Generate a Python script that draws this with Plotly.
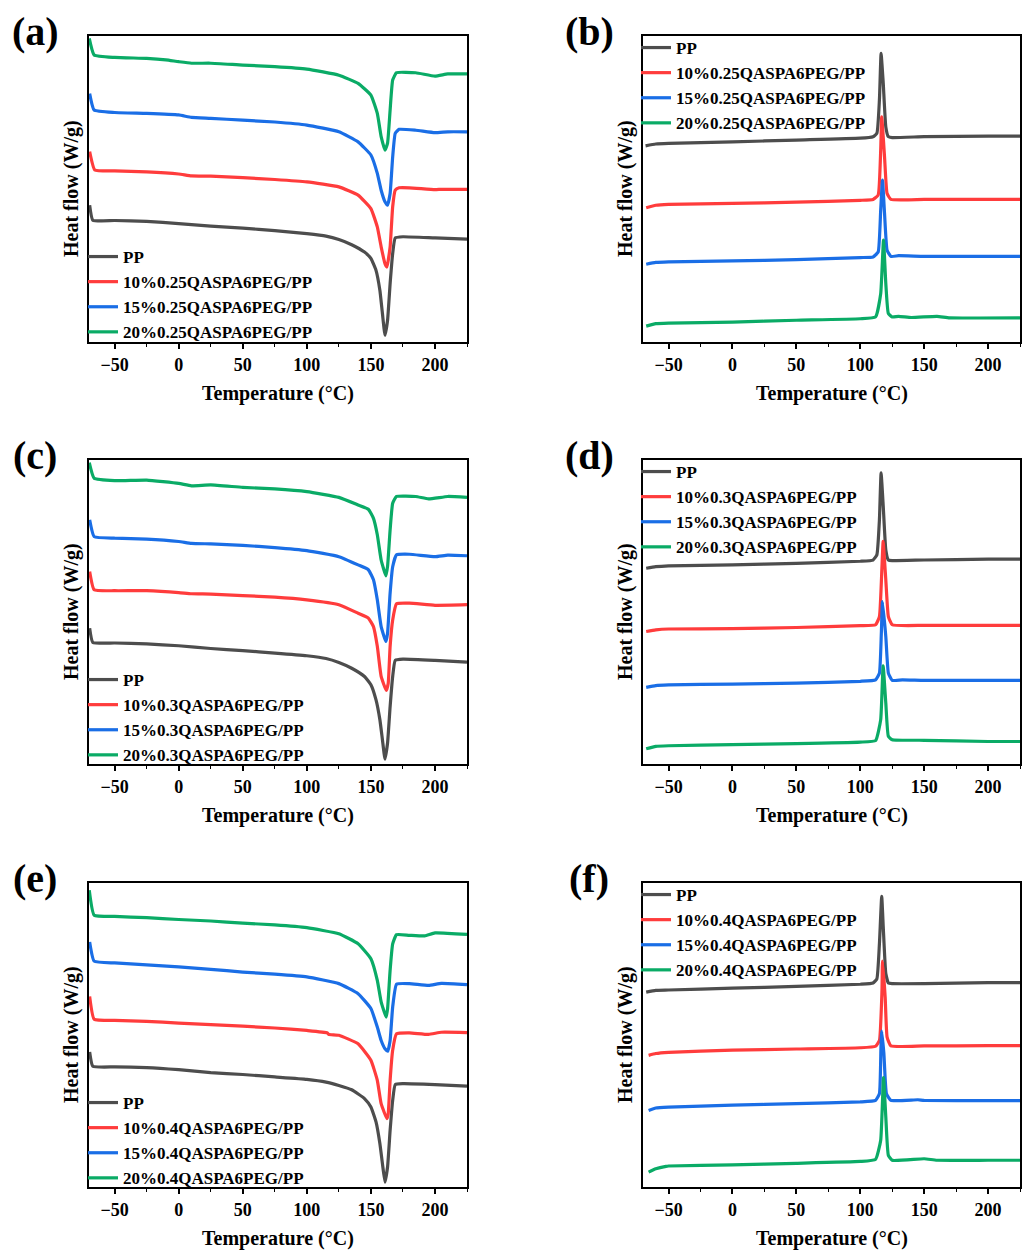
import plotly.graph_objects as go

# DSC curves. y is heat flow in arbitrary units (0-100 per panel)
names_a = ["PP", "10%0.25QASPA6PEG/PP", "15%0.25QASPA6PEG/PP", "20%0.25QASPA6PEG/PP"]
names_c = ["PP", "10%0.3QASPA6PEG/PP", "15%0.3QASPA6PEG/PP", "20%0.3QASPA6PEG/PP"]
names_e = ["PP", "10%0.4QASPA6PEG/PP", "15%0.4QASPA6PEG/PP", "20%0.4QASPA6PEG/PP"]
colors = ["#4d4d4d", "#ff3c3c", "#1a6ee6", "#0aab66"]
panel_labels = ["(a)", "(b)", "(c)", "(d)", "(e)", "(f)"]
x_ticks = [-50, 0, 50, 100, 150, 200]

# (a) heating
a_pp = [(-69.5, 44.7), (-67, 39.8), (-50, 39.7), (-25, 39.4), (0, 38.7), (25, 37.9), (50, 37.2),
        (75, 36.4), (100, 35.4), (115, 34.6), (125, 33.5), (135, 31.8), (145, 29.4), (150, 27.3),
        (154, 23.4), (157, 16.9), (159, 9.3), (161, 2.2), (163, 7.1), (165, 19.1), (167, 28.9),
        (169, 34.0), (175, 34.4), (200, 34.0), (225, 33.6)]
a_10 = [(-69.5, 62.2), (-65.5, 56.2), (-50, 55.9), (-25, 55.6), (0, 54.9), (10, 54.3), (25, 54.2),
        (50, 53.7), (75, 53.1), (100, 52.3), (125, 50.7), (140, 48.0), (150, 43.6), (155, 37.6),
        (158, 31.1), (161, 25.6), (162.5, 24.5), (165, 31.1), (167, 44.2), (169, 49.6), (172, 50.4),
        (180, 50.4), (200, 49.8), (205, 49.9), (225, 49.9)]
a_15 = [(-69.5, 81.2), (-66, 75.8), (-50, 75.0), (-25, 74.7), (0, 74.2), (10, 73.4), (25, 73.1),
        (50, 72.5), (75, 71.9), (100, 70.9), (125, 68.7), (140, 65.4), (150, 61.1), (155, 55.1),
        (158, 49.6), (161, 45.8), (163, 44.7), (165, 48.5), (167, 60.5), (169, 68.2), (172, 69.5),
        (185, 69.2), (200, 68.4), (210, 68.7), (225, 68.7)]
a_20 = [(-69.8, 99.2), (-66, 93.8), (-50, 93.0), (-25, 92.7), (-10, 92.2), (0, 91.6), (10, 91.1),
        (25, 91.1), (50, 90.5), (75, 90.0), (100, 89.2), (125, 87.2), (140, 84.5), (150, 80.7),
        (155, 74.7), (158, 67.1), (161, 62.7), (163, 65.0), (165, 75.8), (167, 85.6), (170, 88.0),
        (185, 88.0), (200, 86.9), (210, 87.6), (225, 87.6)]

# (b) cooling
b_pp = [(-68, 64.1), (-60, 64.7), (-50, 64.9), (0, 65.4), (50, 66.0), (100, 66.6), (110, 67.1),
        (113, 68.2), (115, 79.1), (116.3, 94.3), (118, 84.5), (120, 70.3), (122, 67.1), (125, 66.8),
        (150, 67.1), (200, 67.3), (225, 67.3)]
b_10 = [(-67.5, 43.9), (-60, 44.7), (-50, 45.0), (0, 45.3), (50, 45.7), (100, 46.3), (110, 46.6),
        (114, 48.0), (116, 62.7), (116.8, 73.6), (119, 60.5), (121, 48.5), (124, 46.6), (150, 46.6),
        (200, 46.6), (225, 46.6)]
b_15 = [(-67.5, 25.4), (-60, 26.0), (-50, 26.2), (0, 26.5), (50, 26.9), (100, 27.6), (110, 27.8),
        (114, 29.4), (116, 43.1), (117.4, 52.9), (119, 42.0), (121, 30.0), (124, 28.0), (130, 28.2),
        (150, 28.0), (200, 28.0), (225, 28.0)]
b_20 = [(-67.5, 5.2), (-60, 6.0), (-50, 6.2), (0, 6.5), (50, 7.1), (100, 7.6), (112, 8.2),
        (116, 15.8), (118.2, 33.3), (120, 19.1), (122, 9.3), (125, 8.2), (130, 8.4), (140, 8.0),
        (160, 8.4), (170, 7.9), (225, 7.9)]

# (c) heating
c_pp = [(-69.5, 44.7), (-67, 40.0), (-50, 39.8), (-25, 39.5), (0, 38.9), (25, 38.0), (50, 37.3),
        (75, 36.5), (100, 35.6), (115, 34.7), (125, 33.4), (135, 31.5), (145, 28.8), (150, 26.1),
        (154, 21.1), (157, 14.6), (159, 8.0), (161, 1.6), (163, 6.9), (165, 18.9), (167, 28.8),
        (169, 34.1), (175, 34.5), (200, 34.1), (225, 33.5)]
c_10 = [(-69.5, 63.3), (-66, 57.3), (-50, 57.0), (-25, 57.0), (0, 56.4), (10, 56.0), (25, 55.9),
        (50, 55.4), (75, 54.9), (100, 54.0), (125, 52.4), (140, 49.6), (148, 48.0), (152, 45.2),
        (155, 38.7), (158, 28.8), (162, 24.2), (163.5, 26.5), (165, 38.7), (167, 47.4), (170, 52.7),
        (180, 52.9), (200, 52.2), (225, 52.4)]
c_15 = [(-69.5, 80.3), (-66, 74.8), (-50, 74.3), (-25, 74.0), (0, 73.2), (10, 72.6), (25, 72.4),
        (50, 71.9), (75, 71.2), (100, 70.2), (125, 68.2), (140, 65.5), (148, 63.9), (152, 60.6),
        (155, 54.0), (158, 45.2), (161.7, 40.3), (163, 43.0), (165, 56.2), (167, 64.9), (170, 68.8),
        (180, 69.0), (200, 68.2), (210, 68.7), (225, 68.5)]
c_20 = [(-69.8, 99.1), (-66, 94.0), (-50, 93.2), (-25, 93.4), (0, 92.3), (10, 91.5), (25, 91.8),
        (50, 91.0), (75, 90.5), (100, 89.6), (125, 87.7), (140, 85.2), (148, 83.8), (152, 80.8),
        (155, 75.4), (158, 67.1), (161.7, 61.9), (163, 65.0), (165, 77.0), (167, 85.8), (170, 88.0),
        (185, 88.0), (195, 87.2), (210, 88.0), (225, 87.7)]

# (d) cooling
d_pp = [(-67.5, 64.4), (-60, 64.9), (-50, 65.2), (0, 65.5), (50, 66.0), (100, 66.7), (110, 67.1),
        (113, 68.8), (115, 80.3), (116.3, 95.8), (118, 84.7), (120, 70.4), (122, 67.1), (125, 66.9),
        (150, 67.1), (200, 67.4), (225, 67.4)]
d_10 = [(-67.5, 43.6), (-60, 44.1), (-50, 44.4), (0, 44.5), (50, 44.9), (100, 45.5), (112, 45.8),
        (115, 48.5), (117, 65.0), (117.9, 73.2), (120, 60.6), (122, 48.5), (125, 45.8), (150, 45.6),
        (200, 45.6), (225, 45.6)]
d_15 = [(-67.5, 25.2), (-60, 25.8), (-50, 26.0), (0, 26.3), (50, 26.6), (100, 27.2), (112, 27.7),
        (115, 29.9), (116.5, 43.0), (117.4, 53.4), (120, 41.9), (122, 29.9), (125, 27.5), (133, 27.7),
        (150, 27.5), (200, 27.5), (225, 27.5)]
d_20 = [(-67.5, 5.0), (-60, 5.8), (-50, 6.0), (0, 6.4), (50, 6.7), (100, 7.2), (112, 7.7),
        (116, 14.6), (117.9, 32.3), (120, 20.0), (122, 9.1), (125, 8.0), (150, 7.8), (200, 7.4),
        (225, 7.4)]

# (e) heating
e_pp = [(-69.5, 44.4), (-67, 39.7), (-50, 39.5), (-25, 39.3), (0, 38.6), (25, 37.6), (50, 37.0),
        (75, 36.2), (100, 35.4), (115, 34.5), (125, 33.4), (135, 32.0), (145, 29.1), (150, 26.3),
        (154, 21.4), (157, 14.3), (159, 7.7), (161, 1.6), (163, 6.6), (165, 18.6), (167, 28.5),
        (169, 33.7), (175, 34.0), (200, 33.7), (225, 33.2)]
e_10 = [(-69.5, 62.7), (-66, 55.2), (-50, 54.8), (-25, 54.5), (0, 53.9), (25, 53.4), (50, 52.9),
        (75, 52.3), (100, 51.5), (116, 50.7), (117, 50.2), (125, 49.9), (140, 47.1), (150, 41.7),
        (155, 35.1), (158, 27.4), (162.5, 22.5), (163.5, 24.0), (165, 35.1), (167, 45.0), (170, 50.4),
        (180, 50.7), (195, 50.2), (205, 50.9), (225, 50.8)]
e_15 = [(-69.5, 80.6), (-66, 74.3), (-50, 73.7), (-25, 73.1), (0, 72.4), (25, 71.6), (50, 70.7),
        (75, 70.0), (100, 69.1), (125, 66.9), (140, 63.6), (150, 58.7), (155, 52.6), (158, 48.2),
        (161, 45.5), (163.2, 44.7), (165, 48.2), (167, 59.2), (170, 66.7), (180, 66.9), (195, 66.3),
        (205, 67.0), (225, 66.6)]
e_20 = [(-69.8, 97.6), (-66, 89.4), (-50, 89.0), (-25, 88.6), (0, 88.0), (25, 87.5), (50, 86.8),
        (75, 86.2), (100, 85.3), (125, 83.3), (140, 80.0), (150, 75.1), (155, 68.0), (158, 60.9),
        (161.9, 55.9), (163, 58.6), (165, 71.3), (167, 80.0), (170, 83.0), (180, 82.8), (192, 82.6),
        (200, 83.6), (225, 83.1)]

# (f) cooling
f_pp = [(-67.5, 64.1), (-60, 64.7), (-50, 64.8), (0, 65.4), (50, 66.0), (100, 66.7), (110, 67.1),
        (113, 68.5), (115, 80.0), (116.8, 95.6), (118, 85.5), (120, 70.2), (122, 67.1), (125, 66.9),
        (150, 66.9), (200, 67.2), (225, 67.2)]
f_10 = [(-65.6, 43.3), (-60, 43.9), (-50, 44.3), (0, 45.0), (50, 45.4), (100, 45.8), (112, 46.3),
        (115, 48.2), (117, 64.7), (117.4, 74.3), (119.5, 62.5), (121, 49.3), (124, 46.4), (150, 46.4),
        (200, 46.5), (225, 46.5)]
f_15 = [(-65.6, 25.2), (-60, 26.0), (-50, 26.3), (0, 26.9), (50, 27.4), (100, 28.0), (112, 28.5),
        (115, 30.7), (116.2, 46.1), (116.8, 51.3), (118.5, 43.9), (120.5, 30.7), (124, 28.5),
        (145, 28.7), (150, 28.5), (200, 28.4), (225, 28.4)]
f_20 = [(-65.6, 4.9), (-60, 6.0), (-52, 6.8), (-50, 6.9), (0, 7.3), (50, 7.8), (100, 8.4), (112, 9.1),
        (116, 15.4), (118.2, 36.0), (120, 23.0), (122, 10.4), (125, 8.8), (150, 9.3), (160, 8.8),
        (200, 8.8), (225, 8.8)]

panels = [
    (names_a, [a_pp, a_10, a_15, a_20]),
    (names_a, [b_pp, b_10, b_15, b_20]),
    (names_c, [c_pp, c_10, c_15, c_20]),
    (names_c, [d_pp, d_10, d_15, d_20]),
    (names_e, [e_pp, e_10, e_15, e_20]),
    (names_e, [f_pp, f_10, f_15, f_20]),
]

# the page body has an 8px margin, so the figure is drawn 8px in from the window corner
OFF = 8
W, H = 1031 - 2 * OFF, 1259 - 2 * OFF
FONT = "Liberation Serif"

# plot-area boxes in window pixels (left, right) / (top, bottom)
col_px = [(89, 467), (643, 1020)]
row_px = [(36, 342), (460, 764), (883, 1187)]
# legend anchor (left x, top y) in window pixels
legend_px = [(83, 239), (636, 30), (83, 662), (636, 454), (83, 1085), (636, 877)]


def px_x(v):
    return (v - OFF) / W


def px_y(v):
    return 1 - (v - OFF) / H


fig = go.Figure()
layout = {}

for i, (names, curves) in enumerate(panels):
    r, c = divmod(i, 2)
    x0, x1 = col_px[c]
    y0, y1 = row_px[r]
    n = "" if i == 0 else str(i + 1)
    leg = "legend" + n
    for name, pts, col in zip(names, curves, colors):
        fig.add_trace(go.Scatter(
            x=[p[0] for p in pts], y=[p[1] for p in pts],
            mode="lines", name=name,
            line=dict(color=col, width=3.2, shape="spline", smoothing=0.4),
            xaxis="x" + n, yaxis="y" + n, legend=leg,
        ))
    layout["xaxis" + n] = dict(
        domain=[px_x(x0), px_x(x1)], anchor="y" + n, range=[-70, 225],
        tickvals=x_ticks, ticks="outside", ticklen=5, tickwidth=1.5, tickcolor="black",
        minor=dict(dtick=25, tick0=-25, ticks="outside", ticklen=3, tickwidth=1.2, tickcolor="black"),
        showgrid=False, zeroline=False, showline=True, mirror=True,
        linecolor="black", linewidth=1.8,
        tickfont=dict(family=FONT, size=18, color="black", weight="bold"),
    )
    layout["yaxis" + n] = dict(
        domain=[px_y(y1), px_y(y0)], anchor="x" + n, range=[0, 100],
        showticklabels=False, ticks="", showgrid=False, zeroline=False,
        showline=True, mirror=True, linecolor="black", linewidth=1.8,
    )
    lx, ly = legend_px[i]
    layout[leg] = dict(
        x=px_x(lx), y=px_y(ly), xanchor="left", yanchor="top",
        bgcolor="rgba(0,0,0,0)", borderwidth=0, tracegroupgap=0,
        itemwidth=30, font=dict(family=FONT, size=17, color="black", weight="bold"),
    )

annotations = []
for i, lab in enumerate(panel_labels):
    r, c = divmod(i, 2)
    x0, x1 = col_px[c]
    y0, y1 = row_px[r]
    annotations.append(dict(text=lab, x=px_x(x0 - 54), y=px_y(y0 - 5), xref="paper", yref="paper",
                            xanchor="center", yanchor="middle", showarrow=False,
                            font=dict(family=FONT, size=40, color="black", weight="bold")))
    annotations.append(dict(text="Heat flow (W/g)", textangle=-90, x=px_x(x0 - 18),
                            y=px_y((y0 + y1) / 2), xref="paper", yref="paper",
                            xanchor="center", yanchor="middle", showarrow=False,
                            font=dict(family=FONT, size=20, color="black", weight="bold")))
    annotations.append(dict(text="Temperature (°C)", x=px_x((x0 + x1) / 2), y=px_y(y1 + 51),
                            xref="paper", yref="paper", xanchor="center", yanchor="middle",
                            showarrow=False,
                            font=dict(family=FONT, size=20, color="black", weight="bold")))

fig.update_layout(
    width=W, height=H, margin=dict(l=0, r=0, t=0, b=0),
    plot_bgcolor="white", paper_bgcolor="white",
    showlegend=True, annotations=annotations, **layout,
)

fig.write_html("out.html")
